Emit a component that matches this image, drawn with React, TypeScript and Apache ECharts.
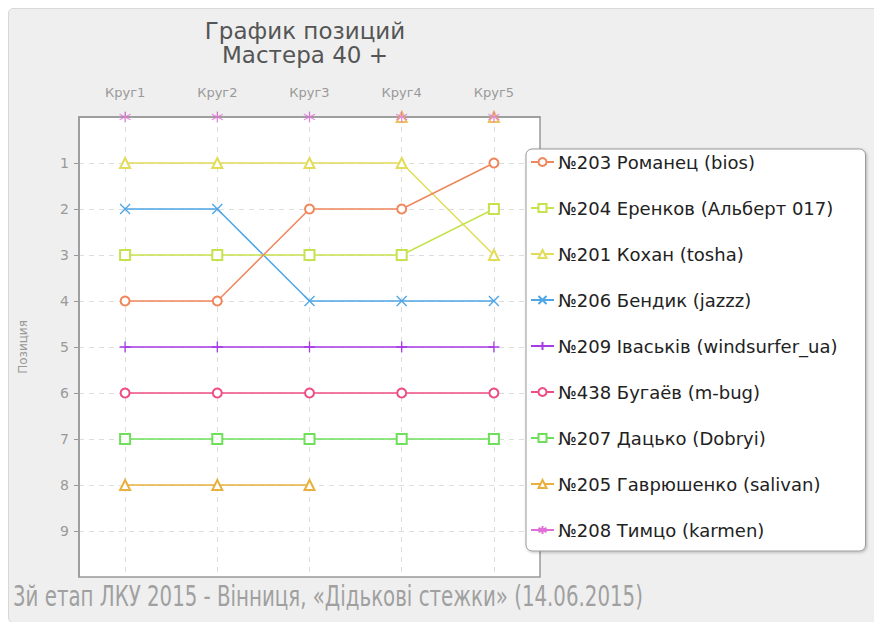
import React, { useEffect, useRef } from "react";
import * as echarts from "echarts";

const rounds = ["Круг1", "Круг2", "Круг3", "Круг4", "Круг5"];
const positionTicks = [1, 2, 3, 4, 5, 6, 7, 8, 9];

// 0 = no position (out of the race)
const romanets = [4, 4, 2, 2, 1];
const erenkov = [3, 3, 3, 3, 2];
const kokhan = [1, 1, 1, 1, 3];
const bendyk = [2, 2, 4, 4, 4];
const ivaskiv = [5, 5, 5, 5, 5];
const buhaiev = [6, 6, 6, 6, 6];
const datsko = [7, 7, 7, 7, 7];
const havriushenko = [8, 8, 8, 0, 0];
const tymtso = [0, 0, 0, 0, 0];

const names = [
  "№203 Романец (bios)",
  "№204 Еренков (Альберт 017)",
  "№201 Кохан (tosha)",
  "№206 Бендик (jazzz)",
  "№209 Іваськів (windsurfer_ua)",
  "№438 Бугаёв (m-bug)",
  "№207 Дацько (Dobryi)",
  "№205 Гаврюшенко (salivan)",
  "№208 Тимцо (karmen)",
];
const values = [romanets, erenkov, kokhan, bendyk, ivaskiv, buhaiev, datsko, havriushenko, tymtso];
const colors = ["#f0875c", "#c6e24e", "#e2dc58", "#4ea6e6", "#a63ae6", "#ee4d84", "#6edf5a", "#e8b03c", "#e070d8"];

const X = "path://M0 0L10 10M10 0L0 10";
const PLUS = "path://M5 0L5 10M0 5L10 5";
const STAR = "path://M5 0L5 10M0.67 2.5L9.33 7.5M9.33 2.5L0.67 7.5";
const symbols = ["emptyCircle", "emptyRect", "emptyTriangle", X, PLUS, "emptyCircle", "emptyRect", "emptyTriangle", STAR];
const symbolSizes = [9, 10, 10, 10, 11, 9, 10, 10, 11];

const titleText = "График позиций\nМастера 40 +";
const subtitle = "3й етап ЛКУ 2015 - Вінниця, «Дідькові стежки» (14.06.2015)";

export default function App() {
  const ref = useRef<HTMLDivElement>(null);
  useEffect(() => {
    document.body.style.overflow = "hidden";
    if (!ref.current) return;
    const chart = echarts.init(ref.current, undefined, { renderer: "svg" });
    const series: any[] = [];
    names.forEach((name, i) => {
      const c = colors[i];
      const isPath = symbols[i].startsWith("path://");
      const itemStyle = isPath
        ? { color: c, borderColor: c, borderWidth: 1.3 }
        : { color: c, borderWidth: 1.4 };
      series.push({
        type: "line",
        name,
        data: values[i].map((v) => (v === 0 ? "-" : v)),
        symbol: symbols[i],
        symbolSize: symbolSizes[i],
        showAllSymbol: true,
        lineStyle: { color: c, width: 1.5 },
        itemStyle,
        z: 3 + (names.length - i) * 0.01,
      });
      series.push({
        type: "scatter",
        name,
        data: values[i].map((v) => (v === 0 ? 0 : "-")),
        symbol: symbols[i],
        symbolSize: symbolSizes[i],
        itemStyle,
        clip: false,
        z: 4 + i * 0.01,
      });
    });
    chart.setOption({
      animation: false,
      backgroundColor: "transparent",
      textStyle: { fontFamily: "DejaVu Sans" },
      grid: {
        left: 70,
        top: 108,
        width: 461,
        height: 460,
        outerBoundsMode: "none",
        containLabel: false,
        show: true,
        backgroundColor: "#fff",
        borderColor: "#999",
        borderWidth: 1.5,
      },
      legend: {
        orient: "vertical",
        left: 517,
        top: 140,
        data: names,
        itemWidth: 23,
        itemHeight: 10,
        itemGap: 26,
        padding: [3, 28, 11, 4],
        backgroundColor: "#fff",
        borderColor: "#999",
        borderWidth: 1,
        borderRadius: 6,
        shadowColor: "rgba(0,0,0,0.25)",
        shadowBlur: 3,
        shadowOffsetX: 1,
        shadowOffsetY: 1,
        textStyle: { fontFamily: "DejaVu Sans", fontSize: 18, color: "#222", height: 20, lineHeight: 20, padding: [0, 0, 0, -1] },
      },
      graphic: [
        {
          type: "text",
          x: 296,
          y: 10,
          style: {
            text: titleText,
            fontFamily: "DejaVu Sans",
            fontSize: 23,
            lineHeight: 24,
            fill: "#555",
            align: "center",
            verticalAlign: "top",
          },
        },
        {
          type: "text",
          x: 4,
          y: 587,
          scaleY: 1.3,
          style: {
            text: subtitle,
            fontFamily: "DejaVu Sans Condensed",
            fontSize: 22,
            fill: "#a0a0a0",
            verticalAlign: "middle",
          },
        },
      ],
      xAxis: {
        type: "category",
        data: rounds,
        position: "top",
        boundaryGap: true,
        axisLine: { show: true, lineStyle: { color: "#999", width: 1.5 } },
        axisTick: { show: true, alignWithLabel: true, length: 5, lineStyle: { color: "#999" } },
        axisLabel: { color: "#999", fontSize: 13, margin: 18 },
        splitLine: { show: true, alignWithLabel: true, lineStyle: { color: "#ddd", type: [5, 5] } },
      },
      yAxis: {
        type: "value",
        inverse: true,
        min: 0,
        max: 10,
        interval: 1,
        name: "Позиция",
        nameLocation: "middle",
        nameGap: 50,
        nameTextStyle: { color: "#999", fontSize: 12 },
        axisLine: { show: true, lineStyle: { color: "#999", width: 1.5 } },
        axisTick: { show: true, length: 5, customValues: positionTicks, lineStyle: { color: "#999" } },
        axisLabel: {
          color: "#999",
          fontSize: 14,
          margin: 10,
          customValues: positionTicks,
        },
        splitLine: { show: true, lineStyle: { color: "#ddd", type: [5, 5] } },
      },
      series,
    });
    return () => chart.dispose();
  }, []);
  return (
    <div
      style={{
        width: 873,
        height: 613,
        background: "#efefef",
        border: "1px solid #d8d8d8",
        borderRadius: 5,
      }}
    >
      <div ref={ref} style={{ width: 873, height: 613 }} />
    </div>
  );
}
